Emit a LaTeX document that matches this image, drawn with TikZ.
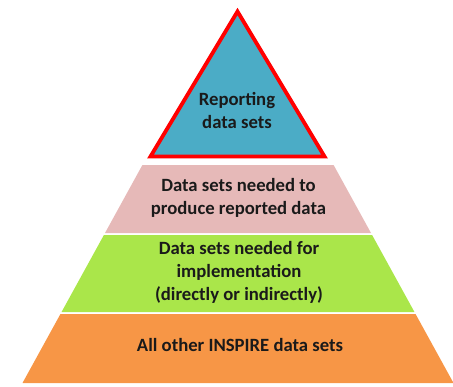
\documentclass[tikz,border=0pt]{standalone}
\usepackage{fontspec}
\setmainfont{Carlito}
\definecolor{tealfill}{HTML}{4BACC6}
\definecolor{pinkfill}{HTML}{E6B9B8}
\definecolor{greenfill}{HTML}{AAE64A}
\definecolor{orangefill}{HTML}{F79646}
\definecolor{txt}{HTML}{1A1A1A}
\begin{document}
\begin{tikzpicture}[x=1pt,y=-1pt,
  lbl/.style={align=center,font=\bfseries\fontsize{18.7}{23}\selectfont,text=txt,inner sep=0pt}]
\useasboundingbox (0,0) rectangle (453,386);
% layers
\fill[orangefill] (60.45,314) -- (415.55,314) -- (453.5,383) -- (22.5,383) -- cycle;
\fill[greenfill] (103.9,235) -- (372.1,235) -- (414.45,312) -- (61.55,312) -- cycle;
\fill[pinkfill] (142.4,165) -- (333.6,165) -- (371,233) -- (105,233) -- cycle;
% top triangle shadow
\fill[tealfill!35,opacity=0.6] (239.5,12) -- (327.5,158) -- (152,158) -- cycle;
% top triangle
\draw[red,line width=3.8pt,fill=tealfill,line join=miter] (237.5,11.5) -- (324.5,156.5) -- (150.5,156.5) -- cycle;
% labels
\node[lbl] (top) at (237,110) {Reporting\\data sets};
\node[lbl] (pink) at (238.5,197.5) {Data sets needed to\\produce reported data};
\node[lbl] (green) at (239,272) {Data sets needed for\\implementation\\(directly or indirectly)};
\node[lbl] (orange) at (240,345) {All other INSPIRE data sets};
\end{tikzpicture}
\end{document}
